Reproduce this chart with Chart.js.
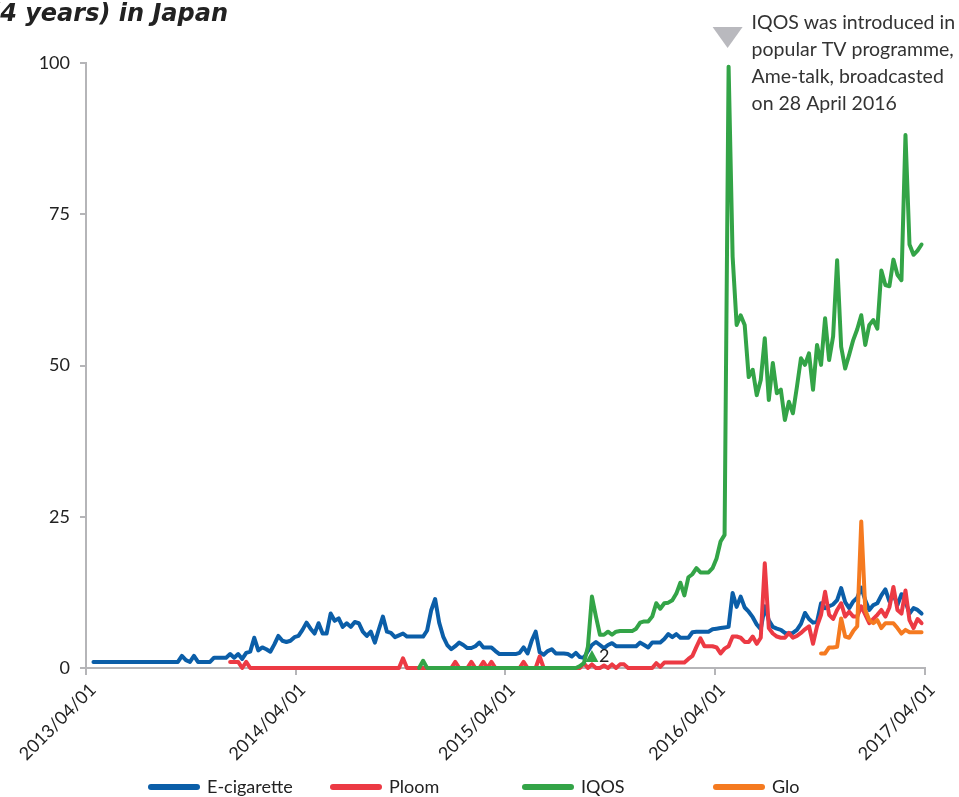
<!DOCTYPE html>
<html lang="en">
<head>
  <meta charset="UTF-8">
  <title>Search interest in Japan</title>
  <script src="https://cdn.jsdelivr.net/npm/chart.js@4"></script>
  <style>
    * { box-sizing: border-box; }
    html, body { margin: 0; padding: 0; background: #fff; overflow: hidden; }
    .wrap { position: relative; width: 959px; height: 797px; }
  </style>
</head>
<body>
  <div class="wrap"><canvas id="trendChart" width="959" height="797"></canvas></div>
  <script>
    // weekly values, first week starting 2013-04-14
    const axisStart = '2013/04/01';
    const firstWeek = '2013/04/14';
    const tickDates = ['2013/04/01', '2014/04/01', '2015/04/01', '2016/04/01', '2017/04/01'];
    const seriesNames = ['E-cigarette', 'Ploom', 'IQOS', 'Glo'];

    const ecig = [
      1, 1, 1, 1, 1, 1, 1, 1, 1, 1,
      1, 1, 1, 1, 1, 1, 1, 1, 1, 1,
      1, 1, 2, 1.3, 1, 2, 1, 1, 1, 1,
      1.7, 1.7, 1.7, 1.7, 2.3, 1.7, 2.3, 1.5, 2.5, 2.7,
      5, 2.9, 3.4, 3.1, 2.7, 3.9, 5.3, 4.5, 4.3, 4.5,
      5.1, 5.3, 6.3, 7.5, 6.5, 5.7, 7.4, 5.7, 5.7, 9,
      7.8, 8.2, 6.8, 7.4, 6.8, 7.6, 7.4, 6, 5.3, 6,
      4.2, 6.4, 8.5, 6, 5.8, 5.1, 5.4, 5.7, 5.2, 5.2,
      5.2, 5.2, 5.2, 6.2, 9.5, 11.4, 7.5, 5.2, 3.8, 3.1,
      3.6, 4.2, 3.8, 3.3, 3.3, 3.6, 4.2, 3.4, 3.4, 3.4,
      2.8, 2.3, 2.3, 2.3, 2.3, 2.3, 2.5, 3.4, 2.4, 4.5,
      6, 2.6, 2.2, 2.8, 3.1, 2.4, 2.4, 2.4, 2.3, 1.9,
      2.5, 1.8, 1.7, 2.8, 3.8, 4.3, 3.8, 3.3, 3.8, 4.1,
      3.6, 3.6, 3.6, 3.6, 3.6, 3.6, 4.2, 3.8, 3.4, 4.2,
      4.2, 4.2, 4.8, 5.6, 5.1, 5.6, 5, 5, 5, 5.9,
      6, 6, 6, 6, 6.4, 6.5, 6.6, 6.7, 6.8, 12.4,
      10.1, 11.8, 10, 9.3, 8.4, 7.2, 6.4, 10.2, 7.9, 6.8,
      6.5, 6.3, 5.8, 5.7, 5.8, 6.3, 7.3, 9.1, 8.1, 7.5,
      7.6, 10.7, 9.9, 10.2, 10.5, 11.2, 13.2, 10.9, 9.9, 11,
      11.6, 13.3, 11.2, 9.6, 10.4, 10.7, 12, 13, 11, 12.2,
      10.4, 12.2, 11, 9, 9.9, 9.6, 9
    ];

    const ploomFrom = 34;
    const ploom = [
      1, 1, 1, 0, 1, 0,
      0, 0, 0, 0, 0, 0, 0, 0, 0, 0,
      0, 0, 0, 0, 0, 0, 0, 0, 0, 0,
      0, 0, 0, 0, 0, 0, 0, 0, 0, 0,
      0, 0, 0, 0, 0, 0, 0, 1.6, 0, 0,
      0, 0, 0, 0, 0, 0, 0, 0, 0, 0,
      1, 0, 0, 0, 1, 0, 0, 1, 0, 1,
      0, 0, 0, 0, 0, 0, 0, 1, 0, 0,
      0, 1.9, 0, 0, 0, 0, 0, 0, 0, 0,
      0, 0, 0.8, 0, 0.6, 0, 0, 0.4, 0, 0.6,
      0, 0.6, 0.6, 0, 0, 0, 0, 0, 0, 0,
      0.8, 0.2, 0.9, 0.9, 0.9, 0.9, 0.9, 0.9, 1.5, 2,
      3.5, 4.9, 3.6, 3.6, 3.6, 3.4, 2.4, 3.2, 3.6, 5.2,
      5.2, 5, 4.3, 4.3, 5.2, 4, 5, 17.3, 6.6, 5.7,
      5.2, 5, 5, 5.8, 5, 5.3, 5.8, 6.4, 6.9, 4,
      6.9, 8.8, 12.6, 8.8, 8.1, 9.6, 10.7, 8.5, 9.3, 8.5,
      8.5, 10.2, 8.8, 7.4, 8.1, 8.8, 9.6, 8.5, 10, 13.4,
      9.6, 9, 12.8, 7.9, 6.6, 8.1, 7.4
    ];

    const iqosFrom = 81;
    const iqos = [
      0, 1.2, 0, 0, 0, 0, 0, 0, 0,
      0, 0, 0, 0, 0, 0, 0, 0, 0, 0,
      0, 0, 0, 0, 0, 0, 0, 0, 0, 0,
      0, 0, 0, 0, 0, 0, 0, 0, 0, 0,
      0, 0.3, 0.8, 3.5, 11.8, 8.5, 5.5, 5.5, 6, 5.5,
      6, 6.1, 6.1, 6.1, 6.1, 6.5, 7.5, 7.7, 7.7, 8.5,
      10.7, 9.8, 10.7, 10.8, 11.2, 12.3, 14.1, 12, 15, 15.5,
      16.5, 15.8, 15.8, 15.8, 16.5, 18.1, 20.9, 22, 99.4, 68,
      56.7, 58.3, 56.7, 48.1, 49.3, 45.1, 47.6, 54.5, 44.3, 50.4,
      45.4, 46, 41, 44, 42.1, 46.5, 51.2, 50.1, 52, 46,
      53.4, 50.1, 57.8, 50.9, 54.8, 67.4, 53.1, 49.5, 51.8, 54.2,
      56, 58.3, 53.4, 56.7, 57.5, 56.1, 65.7, 63.3, 63.1, 67.5,
      65, 64.1, 88.1, 70, 68.3, 69, 70
    ];

    const gloFrom = 181;
    const glo = [
      2.4, 2.4, 3.4, 3.4, 3.5, 8.2, 5.2, 5, 6.1,
      6.9, 24.2, 9.6, 7.9, 7.4, 7.9, 6.6, 7.4, 7.4, 7.4,
      6.6, 5.7, 6.3, 5.9, 5.9, 5.9, 5.9
    ];

    // footnote marker on the IQOS line
    const noteWeek = 124;
    const noteLabel = '2';
    const tvNote = ['IQOS was introduced in', 'popular TV programme,', 'Ame-talk, broadcasted', 'on 28 April 2016'];

    const FONT = 'Lato, "Noto Sans", sans-serif';
    const colors = ['#0b5ea8', '#ec3a44', '#33a447', '#f57a20'];

    const DAY = 86400000;
    const dayOf = s => (Date.parse(s.replace(/\//g, '-') + 'T00:00:00Z') - Date.parse(axisStart.replace(/\//g, '-') + 'T00:00:00Z')) / DAY;
    const weekDay = i => dayOf(firstWeek) + 7 * i;
    const points = (vals, from) => vals.map((v, k) => ({ x: weekDay(from + k), y: v }));

    const makeSet = (k, data, order) => ({
      label: seriesNames[k],
      data,
      borderColor: colors[k],
      backgroundColor: colors[k],
      borderWidth: 4,
      borderJoinStyle: 'round',
      borderCapStyle: 'round',
      pointRadius: 0,
      tension: 0,
      clip: 6,
      order
    });

    const notesPlugin = {
      id: 'notes',
      afterDraw(chart) {
        const ctx = chart.ctx;
        const xs = chart.scales.x, ys = chart.scales.y;
        const top = chart.chartArea.top;
        ctx.save();

        // cut-off title
        ctx.font = 'italic bold 24px "DejaVu Sans", sans-serif';
        ctx.fillStyle = '#222';
        ctx.textAlign = 'right';
        ctx.textBaseline = 'alphabetic';
        ctx.fillText('(4 years) in Japan', 228, 21);

        // TV programme note above the IQOS peak
        const peak = iqos.indexOf(Math.max(...iqos));
        const px = xs.getPixelForValue(weekDay(iqosFrom + peak));
        ctx.fillStyle = '#b9b9be';
        ctx.beginPath();
        ctx.moveTo(px - 16, top - 36);
        ctx.lineTo(px + 14, top - 36);
        ctx.lineTo(px - 1, top - 15);
        ctx.closePath();
        ctx.fill();
        ctx.fillStyle = '#333';
        ctx.textAlign = 'left';
        ctx.font = '19.5px ' + FONT;
        tvNote.forEach((line, k) => ctx.fillText(line, px + 23, top - 34 + k * 27));

        // small footnote marker
        const nx = xs.getPixelForValue(weekDay(noteWeek));
        const ny = ys.getPixelForValue(0) - 6;
        ctx.fillStyle = colors[2];
        ctx.beginPath();
        ctx.moveTo(nx - 6.5, ny);
        ctx.lineTo(nx + 6.5, ny);
        ctx.lineTo(nx, ny - 12);
        ctx.closePath();
        ctx.fill();
        ctx.fillStyle = '#222';
        ctx.font = '18px ' + FONT;
        ctx.fillText(noteLabel, nx + 7, ny);

        // legend
        const legendX = [148, 330, 522, 713];
        const ly = 787;
        ctx.textBaseline = 'middle';
        chart.data.datasets.forEach((ds, k) => {
          ctx.strokeStyle = ds.borderColor;
          ctx.lineWidth = 6;
          ctx.lineCap = 'round';
          ctx.beginPath();
          ctx.moveTo(legendX[k] + 3, ly);
          ctx.lineTo(legendX[k] + 49, ly);
          ctx.stroke();
          ctx.fillStyle = '#222';
          ctx.fillText(ds.label, legendX[k] + 59, ly);
        });
        ctx.restore();
      }
    };

    new Chart(document.getElementById('trendChart'), {
      type: 'line',
      data: {
        datasets: [
          makeSet(0, points(ecig, 0), 4),
          makeSet(1, points(ploom, ploomFrom), 3),
          makeSet(2, points(iqos, iqosFrom), 2),
          makeSet(3, points(glo, gloFrom), 1)
        ]
      },
      options: {
        responsive: false,
        animation: false,
        devicePixelRatio: 1,
        layout: { padding: { top: 63, right: 34, bottom: 0, left: 0 } },
        plugins: {
          legend: { display: false },
          tooltip: { enabled: false }
        },
        scales: {
          x: {
            type: 'linear',
            min: dayOf(tickDates[0]),
            max: dayOf(tickDates[tickDates.length - 1]),
            afterBuildTicks: scale => { scale.ticks = tickDates.map(d => ({ value: dayOf(d) })); },
            afterFit: scale => { scale.height = 129; },
            border: { color: '#b5b5b8', width: 2 },
            grid: { drawOnChartArea: false, drawTicks: true, tickLength: 7, color: '#b5b5b8', lineWidth: 2 },
            ticks: {
              autoSkip: false,
              minRotation: 45,
              maxRotation: 45,
              padding: 4,
              labelOffset: 7,
              color: '#222',
              font: { family: FONT, size: 18 },
              callback: (v, i) => tickDates[i]
            }
          },
          y: {
            min: 0,
            max: 100,
            afterFit: scale => { scale.width = 86; },
            border: { color: '#b5b5b8', width: 2 },
            grid: { drawOnChartArea: false, drawTicks: true, tickLength: 6, color: '#b5b5b8', lineWidth: 2 },
            ticks: {
              stepSize: 25,
              padding: 10,
              color: '#222',
              font: { family: FONT, size: 18 }
            }
          }
        }
      },
      plugins: [notesPlugin]
    });
  </script>
</body>
</html>
